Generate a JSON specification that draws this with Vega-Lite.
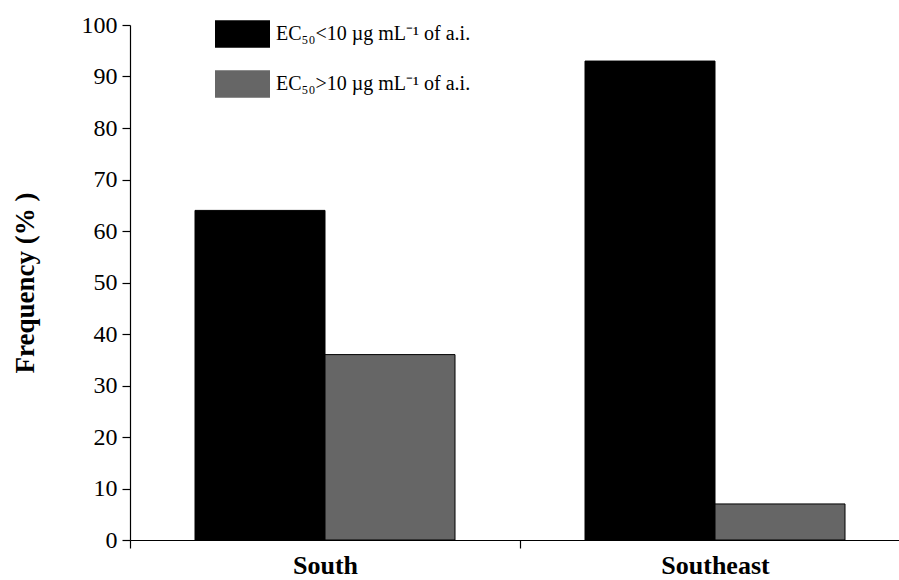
{
  "$schema": "https://vega.github.io/schema/vega-lite/v6.json",
  "autosize": {"type": "none"},
  "width": 769,
  "height": 515,
  "padding": {"left": 130, "top": 25, "right": 0, "bottom": 40},
  "config": {
    "view": {"stroke": null},
    "font": "Liberation Serif",
    "axis": {"domainColor": "black", "tickColor": "black", "labelColor": "black", "titleColor": "black", "grid": false, "domainWidth": 1.2, "tickWidth": 1.2}
  },
  "data": {
    "values": [
      {"region": "South", "class": "EC₅₀<10 µg mL⁻¹ of a.i.", "value": 64},
      {"region": "South", "class": "EC₅₀>10 µg mL⁻¹ of a.i.", "value": 36},
      {"region": "Southeast", "class": "EC₅₀<10 µg mL⁻¹ of a.i.", "value": 93},
      {"region": "Southeast", "class": "EC₅₀>10 µg mL⁻¹ of a.i.", "value": 7}
    ]
  },
  "mark": {"type": "bar", "stroke": "black", "strokeWidth": 1},
  "encoding": {
    "x": {
      "field": "region", "type": "nominal",
      "scale": {"range": [0, 780], "paddingInner": 0, "paddingOuter": 0},
      "axis": {"title": null, "labelAngle": 0, "labelFontWeight": "bold", "labelFontSize": 26, "labelPadding": 4, "tickBand": "extent", "tickSize": 8, "labelBaseline": "top"}
    },
    "xOffset": {
      "field": "class", "type": "nominal",
      "scale": {"paddingInner": 0, "paddingOuter": 0.5}
    },
    "y": {
      "field": "value", "type": "quantitative",
      "scale": {"domain": [0, 100], "nice": false},
      "axis": {"title": "Frequency (% )", "titleFontSize": 27, "titleFontWeight": "bold", "titlePadding": 42, "labelFontSize": 24, "labelPadding": 5, "tickSize": 8, "values": [0, 10, 20, 30, 40, 50, 60, 70, 80, 90, 100]}
    },
    "color": {
      "field": "class", "type": "nominal",
      "scale": {"range": ["#000000", "#666666"]},
      "legend": {
        "title": null,
        "orient": "none",
        "legendX": 85,
        "legendY": -15,
        "symbolType": "M-1,-0.5H1V0.5H-1Z",
        "symbolSize": 3025,
        "symbolStrokeWidth": 0,
        "symbolOpacity": 1,
        "clipHeight": 48,
        "rowPadding": 2,
        "labelFontSize": 20,
        "labelColor": "black",
        "labelOffset": 6,
        "labelLimit": 400
      }
    }
  }
}
